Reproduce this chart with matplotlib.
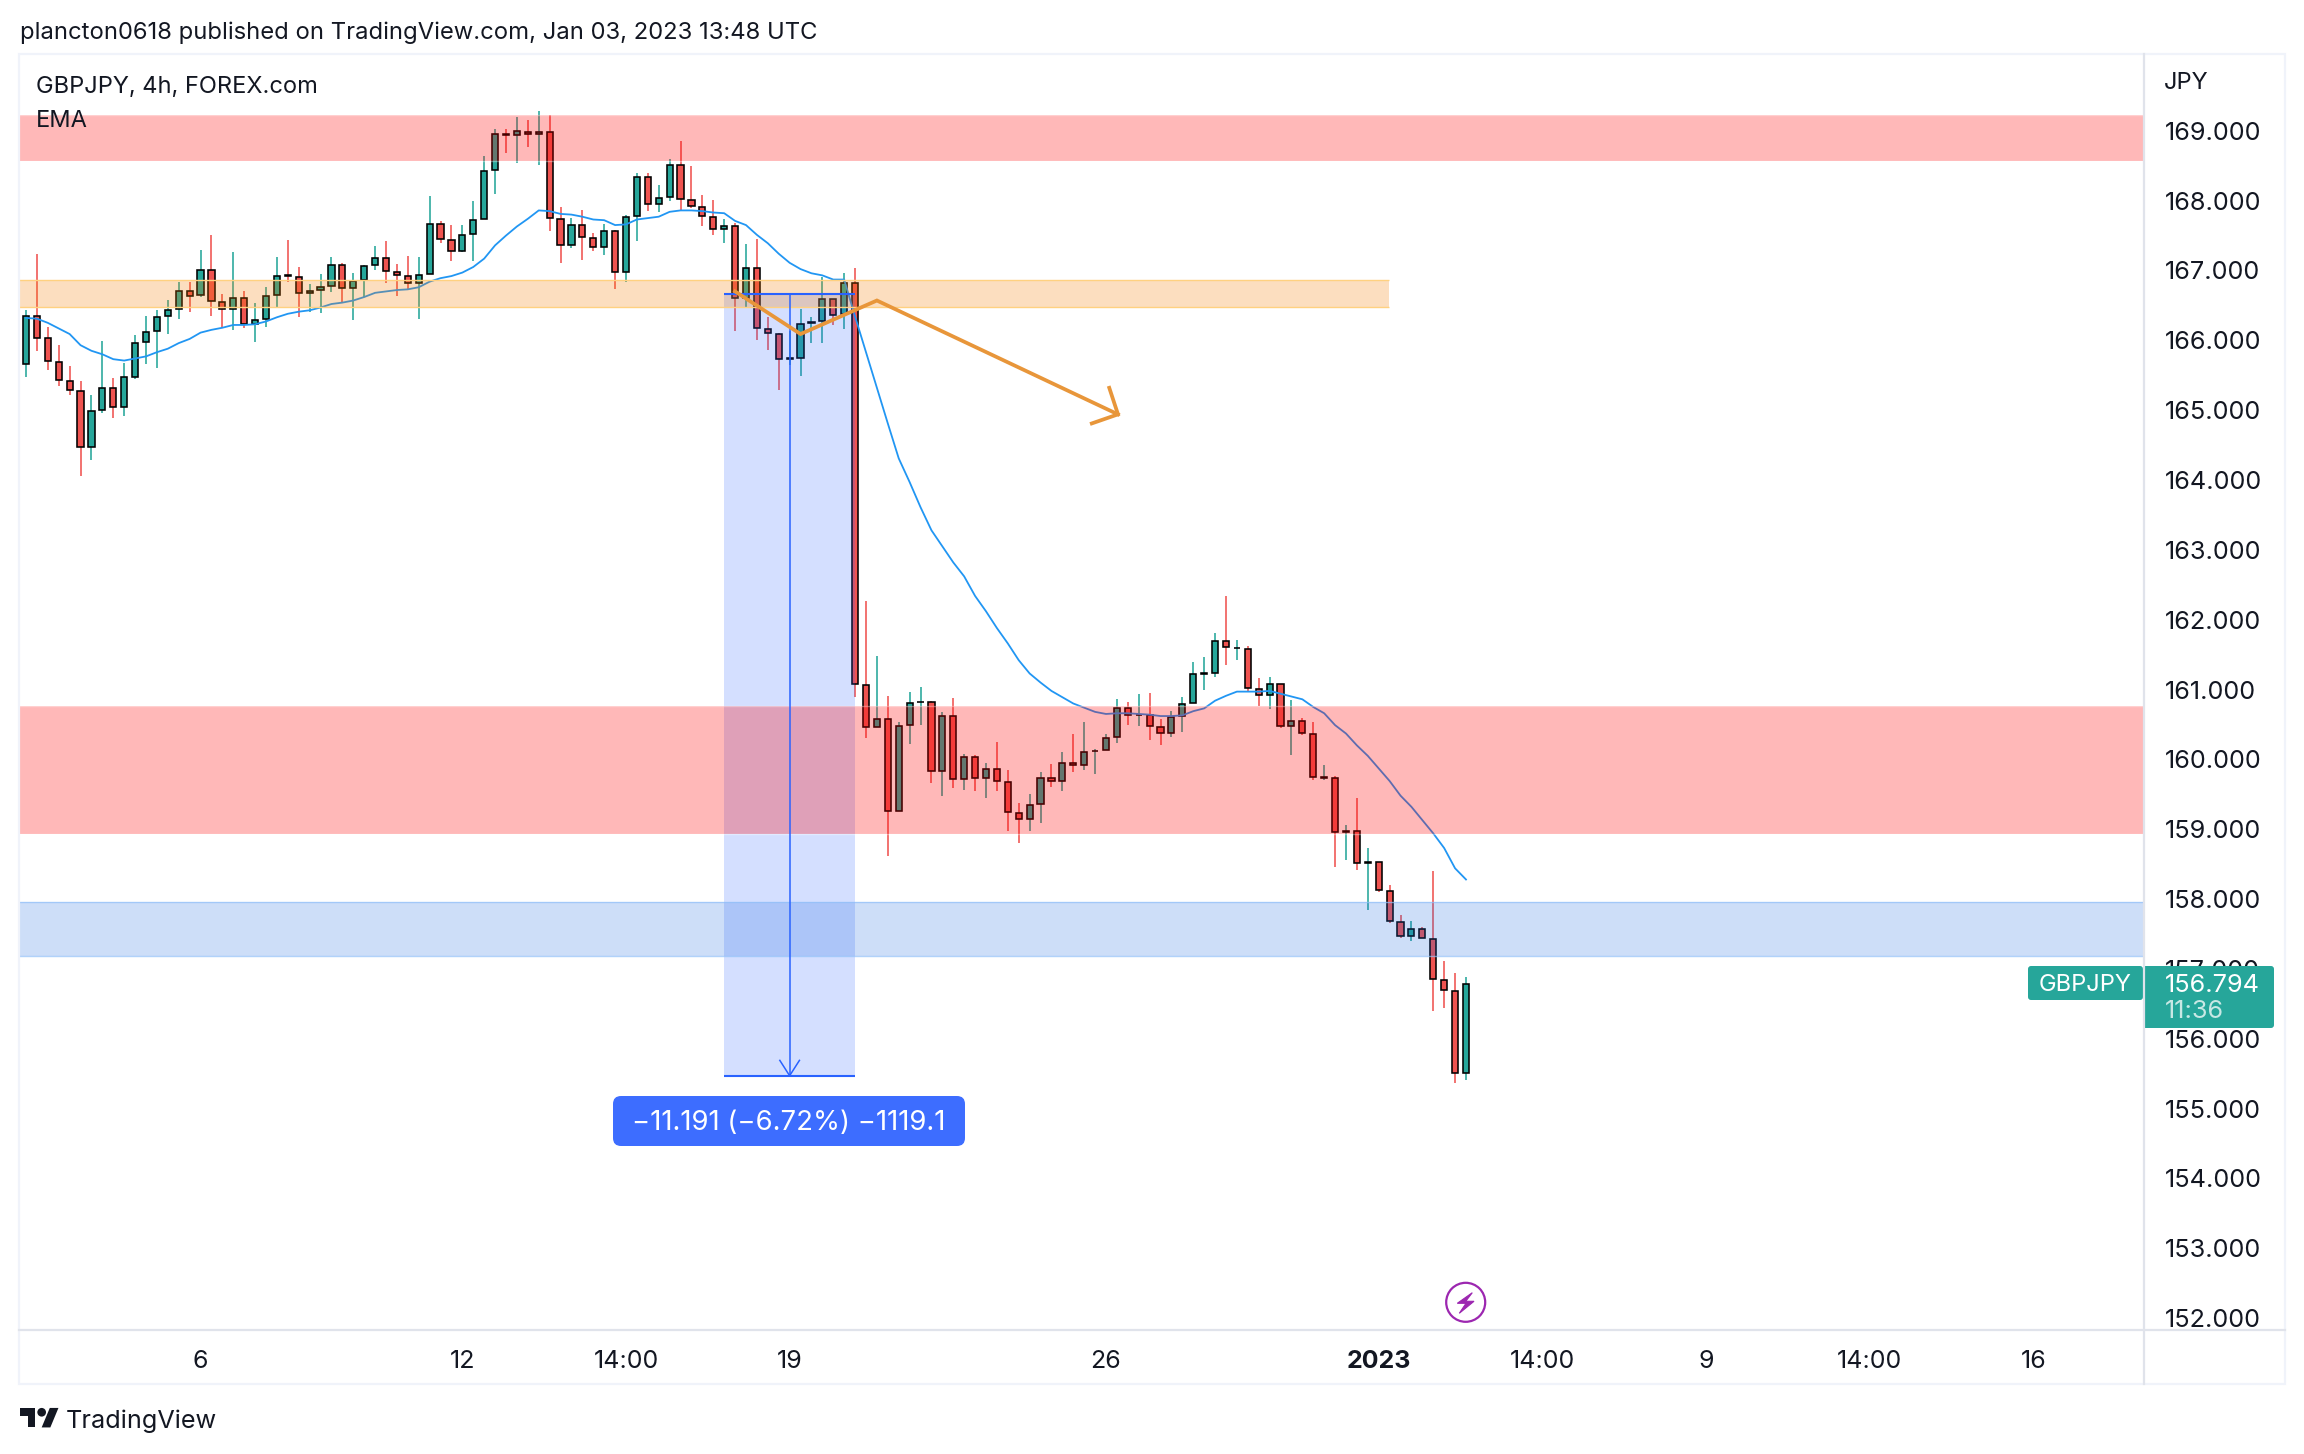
import matplotlib
matplotlib.use("Agg")
import matplotlib.pyplot as plt
from matplotlib.patches import FancyBboxPatch, Circle, Polygon, Rectangle

plt.rcParams['font.family'] = ['Inter', 'DejaVu Sans']

opens = [165.66,166.35,166.04,165.69,165.42,165.27,164.47,165.00,165.32,165.05,165.47,165.97,166.13,166.35,166.45,166.70,166.65,167.01,166.55,166.45,
166.61,166.23,166.31,166.65,166.93,166.91,166.68,166.72,166.78,167.08,166.75,166.86,167.08,167.18,166.98,166.92,166.82,166.95,167.66,167.44,
167.28,167.52,167.74,168.44,168.95,168.94,168.98,168.95,168.98,167.74,167.37,167.65,167.47,167.34,167.57,166.98,167.78,168.34,167.95,168.05,
168.51,168.01,167.91,167.77,167.59,167.64,166.61,167.04,166.16,166.09,165.73,165.75,166.25,166.28,166.59,166.38,166.82,161.07,160.46,160.58,
159.26,160.49,160.82,160.82,159.83,160.62,159.72,160.03,159.73,159.86,159.68,159.23,159.15,159.36,159.73,159.69,159.95,159.92,160.12,160.13,
160.32,160.74,160.63,160.64,160.46,160.38,160.62,160.81,161.22,161.24,161.70,161.60,161.58,161.01,160.92,161.08,160.48,160.55,160.36,159.74,
159.73,158.96,158.97,158.52,158.53,158.12,157.67,157.47,157.57,157.43,156.84,156.68,155.51]
highs = [166.44,167.24,166.19,165.93,165.63,165.42,165.22,165.99,165.46,165.67,166.07,166.35,166.44,166.58,166.84,166.84,167.29,167.51,166.67,167.26,
166.71,166.53,166.76,167.19,167.44,167.05,166.81,166.95,167.19,167.10,166.96,167.08,167.35,167.42,167.09,167.21,167.19,168.07,167.71,167.65,
167.65,167.99,168.64,169.03,169.03,169.20,169.15,169.28,169.23,167.91,167.75,167.87,167.53,167.67,167.58,167.79,168.39,168.39,168.22,168.60,
168.85,168.50,168.08,168.01,167.74,167.68,167.38,167.45,166.33,166.10,166.13,166.45,166.33,166.91,166.59,166.96,167.04,162.27,161.48,160.91,
160.54,160.97,161.04,160.83,160.68,160.88,160.08,160.06,159.95,160.25,159.85,159.38,159.50,159.82,159.93,160.11,160.36,160.54,160.15,160.36,
160.87,160.82,160.94,160.95,160.58,160.69,160.89,161.39,161.47,161.81,162.34,161.71,161.62,161.16,161.18,161.08,160.85,160.59,160.54,159.92,
159.76,159.06,159.45,158.73,158.53,158.20,157.77,157.68,157.60,158.40,157.11,156.94,156.88]
lows = [165.48,165.85,165.57,165.34,165.22,164.06,164.29,164.96,164.89,164.92,165.45,165.66,165.61,166.09,166.31,166.41,166.62,166.35,166.18,166.15,
166.18,165.98,166.19,166.48,166.84,166.33,166.41,166.39,166.69,166.55,166.29,166.62,167.01,166.82,166.63,166.73,166.31,166.95,167.39,167.14,
167.26,167.14,167.74,168.10,168.68,168.54,168.77,168.51,167.57,167.11,167.32,167.15,167.28,167.22,166.73,166.84,167.42,167.85,167.84,167.99,
167.87,167.89,167.64,167.51,167.39,166.13,166.46,166.00,165.86,165.29,165.65,165.49,165.96,165.96,166.22,166.16,160.89,160.31,160.46,158.62,
159.26,160.22,160.49,159.66,159.48,159.59,159.56,159.55,159.45,159.55,158.97,158.80,158.97,159.09,159.60,159.55,159.82,159.85,159.79,160.13,
160.23,160.49,160.48,160.28,160.21,160.32,160.39,160.81,160.99,161.18,161.35,161.42,160.98,160.76,160.72,160.45,160.06,160.35,159.70,159.70,
158.46,158.56,158.42,157.84,158.10,157.66,157.44,157.40,157.44,156.40,156.44,155.37,155.41]
closes = [166.35,166.04,165.70,165.43,165.29,164.47,164.99,165.32,165.05,165.47,165.96,166.12,166.34,166.44,166.70,166.64,167.01,166.56,166.45,166.61,
166.24,166.29,166.63,166.92,166.92,166.68,166.71,166.76,167.08,166.75,166.85,167.07,167.18,166.99,166.93,166.82,166.93,167.67,167.45,167.28,
167.51,167.72,168.42,168.95,168.94,168.99,168.95,168.98,167.75,167.37,167.65,167.48,167.34,167.57,166.98,167.77,168.34,167.95,168.04,168.51,
168.02,167.92,167.78,167.59,167.64,166.61,167.04,166.18,166.10,165.73,165.74,166.23,166.26,166.59,166.36,166.82,161.08,160.46,160.58,159.26,
160.48,160.81,160.82,159.83,160.62,159.72,160.03,159.73,159.86,159.69,159.25,159.15,159.35,159.73,159.69,159.95,159.92,160.11,160.12,160.31,
160.74,160.64,160.64,160.48,160.38,160.61,160.79,161.22,161.24,161.70,161.61,161.60,161.02,160.92,161.08,160.48,160.55,160.38,159.75,159.75,
158.96,158.97,158.52,158.53,158.13,157.69,157.47,157.57,157.44,156.86,156.70,155.51,156.79]
ema = [166.32,166.31,166.25,166.17,166.09,165.93,165.85,165.80,165.73,165.71,165.74,165.77,165.83,165.88,165.96,166.02,166.11,166.15,166.18,166.22,
166.22,166.23,166.27,166.33,166.38,166.41,166.43,166.47,166.52,166.54,166.57,166.62,166.68,166.70,166.72,166.73,166.76,166.84,166.89,166.92,
166.97,167.05,167.17,167.36,167.50,167.63,167.74,167.86,167.85,167.81,167.80,167.77,167.73,167.72,167.65,167.66,167.73,167.75,167.77,167.84,
167.86,167.86,167.85,167.83,167.82,167.71,167.65,167.51,167.39,167.24,167.11,167.02,166.96,166.93,166.87,166.87,166.34,165.83,165.32,164.81,
164.31,163.97,163.61,163.28,163.05,162.82,162.62,162.34,162.12,161.88,161.66,161.42,161.23,161.10,160.98,160.89,160.80,160.74,160.68,160.65,
160.66,160.66,160.65,160.64,160.62,160.62,160.63,160.69,160.73,160.84,160.91,160.97,160.97,160.97,160.98,160.94,160.90,160.86,160.75,160.66,
160.49,160.37,160.20,160.05,159.87,159.69,159.48,159.32,159.13,158.94,158.73,158.44,158.28]

price_ticks = list(range(152, 170))
time_ticks = [16, 40, 55, 70, 99, 124, 139, 154, 169, 184]
time_labels = ['6', '12', '14:00', '19', '26', '2023', '14:00', '9', '14:00', '16']

red_bands = [(168.57, 169.23), (158.93, 160.76)]
support_band = (166.47, 166.86)
support_end = 124.9
blue_band = (157.19, 157.96)

measure_span = (64, 76)
measure_prices = (166.66, 155.47)
path_i = [65, 71, 78, 100.1]
path_p = [166.70, 166.09, 166.57, 164.94]
head_i = [99.3, 100.1, 97.7]
head_p = [165.32, 164.94, 164.81]

W, H = 2304, 1454
fig = plt.figure(figsize=(W/100, H/100), dpi=100, facecolor='white')
L, R, T, B = 19, 2144, 54, 1330
ax = fig.add_axes([L/W, (H-B)/H, (R-L)/W, (B-T)/H])
ax.set_xlim((L-26)/10.909, (R-26)/10.909)
ax.set_ylim(169-(B-130.8)/69.84, 169+(130.8-T)/69.84)
for s in ax.spines.values():
    s.set_visible(False)

GREEN, RED = '#26a69a', '#ef5350'
xs = list(range(len(opens)))
cols = [GREEN if c >= o else RED for o, c in zip(opens, closes)]
ax.vlines(xs, lows, highs, colors=cols, linewidths=1.15, zorder=2)
ax.bar(xs, [abs(c-o) for o, c in zip(opens, closes)], bottom=[min(o, c) for o, c in zip(opens, closes)],
       width=0.56, color=cols, edgecolor='black', linewidth=1.15, zorder=2.5)
ax.plot(xs, ema, color='#2196f3', lw=1.3, zorder=3)

# measure box
ax.fill_between(measure_span, measure_prices[1], measure_prices[0], color='#2962ff', alpha=0.2, lw=0, zorder=4)
# bands
for lo, hi in red_bands:
    ax.axhspan(lo, hi, color='#ff0000', alpha=0.28, lw=0, zorder=5)
    for v in (lo, hi):
        ax.axhline(v, color='#ffffff', alpha=0.35, lw=1, zorder=5.1)
ax.fill_between([ax.get_xlim()[0], support_end], support_band[0], support_band[1], color='#f57c00', alpha=0.25, lw=0, zorder=5)
ax.hlines(support_band, ax.get_xlim()[0], support_end, color='#ffd180', lw=1, zorder=5.1)
ax.axhspan(*blue_band, color='#1e6ae0', alpha=0.22, lw=0, zorder=5)
for v in blue_band:
    ax.axhline(v, color='#90c0f8', alpha=0.7, lw=1, zorder=5.1)

# measure lines
for p in measure_prices:
    ax.hlines(p, *measure_span, color='#2962ff', lw=1.5, zorder=6)
mid = sum(measure_span)/2
ax.vlines(mid, measure_prices[1], measure_prices[0], color='#2962ff', lw=1.1, zorder=6)
ax.plot([mid-0.9, mid, mid+0.9], [measure_prices[1]+0.22, measure_prices[1], measure_prices[1]+0.22], color='#2962ff', lw=1.1, zorder=6)

# orange arrow
ax.plot(path_i, path_p, color='#e8963a', lw=2.7, zorder=6.5, solid_joinstyle='miter')
ax.plot(head_i, head_p, color='#e8963a', lw=2.7, zorder=6.5, solid_joinstyle='miter')

ax.yaxis.tick_right()
ax.set_yticks(price_ticks)
ax.set_yticklabels([f'{p:.3f}' for p in price_ticks])
ax.tick_params(axis='y', length=0, pad=15, labelsize=18.2, labelcolor='#131722')
ax.set_xticks(time_ticks)
ax.set_xticklabels(time_labels)
ax.tick_params(axis='x', length=0, pad=14.5, labelsize=18, labelcolor='#131722')
for lab in ax.get_xticklabels():
    if lab.get_text() == '2023':
        lab.set_fontweight('bold')

# overlay in pixel coordinates
ov = fig.add_axes([0, 0, 1, 1], zorder=10)
ov.set_xlim(0, W); ov.set_ylim(H, 0); ov.axis('off'); ov.patch.set_alpha(0)
# frame
ov.add_patch(Rectangle((L, T), 2285-L, 1384-T, fill=False, ec='#f0f3fa', lw=1.6))
ov.plot([R, R], [T, 1384], color='#e0e3eb', lw=1.6)
ov.plot([L, 2285], [B, B], color='#e0e3eb', lw=1.6)

ov.text(20, 33, 'plancton0618 published on TradingView.com, Jan 03, 2023 13:48 UTC', fontsize=17.15, color='#131722', va='center')
ov.text(36, 87, 'GBPJPY, 4h, FOREX.com', fontsize=17, color='#131722', va='center')
ov.text(36, 121, 'EMA', fontsize=17, color='#131722', va='center')
ov.text(2164, 83, 'JPY', fontsize=17, color='#131722', va='center')

# measure label
ov.add_patch(FancyBboxPatch((619, 1102), 340, 38, boxstyle='round,pad=6,rounding_size=8', fc='#3d6dff', ec='none'))
ov.text(789, 1123, '\u221211.191 (\u22126.72%) \u22121119.1', color='white', fontsize=19.8, ha='center', va='center')

# price tags
ov.add_patch(FancyBboxPatch((2031, 969), 109, 28, boxstyle='round,pad=3,rounding_size=3', fc='#26a69a', ec='none'))
ov.add_patch(FancyBboxPatch((2147, 969), 124, 56, boxstyle='round,pad=3,rounding_size=3', fc='#26a69a', ec='none'))
ov.add_patch(Rectangle((2144, 966), 6, 62, fc='#26a69a', ec='none'))
ov.text(2085, 985, 'GBPJPY', color='white', fontsize=17, ha='center', va='center')
ov.text(2165, 985, '156.794', color='white', fontsize=18.2, va='center')
ov.text(2165, 1012, '11:36', color='#c8e8e4', fontsize=18.2, va='center')

# event marker
ov.add_patch(Circle((1465.7, 1302.3), 19.5, fc='none', ec='#9c27b0', lw=1.6))
ov.add_patch(Polygon([(1472.3, 1292.7), (1457.3, 1303.3), (1466, 1303.3), (1459.3, 1313.3), (1474, 1301.3), (1465.7, 1301.3)], fc='#9c27b0', ec='#9c27b0', lw=0.8))

# logo
sx, x0, y0 = 39/36, 20, 1403.6
def P(pts):
    return [(x0+sx*a, y0+sx*b) for a, b in pts]
ov.add_patch(Polygon(P([(14, 22), (7, 22), (7, 11), (0, 11), (0, 4), (14, 4)]), fc='#131722', ec='none'))
ov.add_patch(Polygon(P([(28, 22), (20, 22), (27.5, 4), (35.5, 4)]), fc='#131722', ec='none'))
ov.add_patch(Circle((x0+sx*20, y0+sx*8), 4*sx, fc='#131722', ec='none'))
ov.text(66, 1421.5, 'TradingView', fontsize=18.2, color='#131722', va='center')

fig.savefig('out.png', dpi=100)
